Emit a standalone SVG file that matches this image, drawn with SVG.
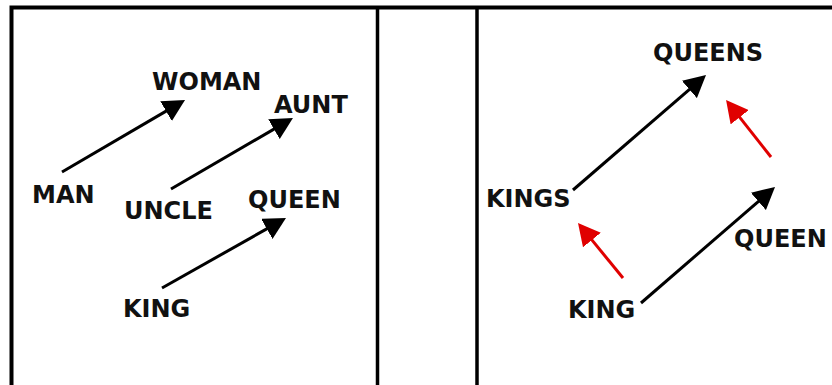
<svg xmlns="http://www.w3.org/2000/svg" width="832" height="385" viewBox="0 0 832 385">
  <style>
    .lbl { font-family: "DejaVu Sans", "Liberation Sans", sans-serif; font-weight: bold; font-size: 24px; fill: #111; }
    .frame { fill: none; stroke: #000; stroke-width: 4; }
    .blk { stroke: #000; stroke-width: 3; fill: none; }
    .red { stroke: #e00000; stroke-width: 3; fill: none; }
  </style>
  <defs>
    <marker id="ahb" markerUnits="userSpaceOnUse" viewBox="0 0 22 23" markerWidth="22" markerHeight="23" refX="4" refY="11.5" orient="auto">
      <path d="M0,0 L22,11.5 L0,23 Z" fill="#000"/>
    </marker>
    <marker id="ahr" markerUnits="userSpaceOnUse" viewBox="0 0 22 23" markerWidth="22" markerHeight="23" refX="4" refY="11.5" orient="auto">
      <path d="M0,0 L22,11.5 L0,23 Z" fill="#e00000"/>
    </marker>
  </defs>
  <rect width="832" height="385" fill="#fff"/>
  <g id="frames">
    <path class="frame" d="M11.5,385 V7.5 H832"/>
    <path class="frame" d="M377.5,7.5 V385" style="stroke-width:3.5"/>
    <path class="frame" d="M477,7.5 V385" style="stroke-width:3.5"/>
  </g>
  <g id="connectors">
    <line class="blk" x1="62" y1="172" x2="169.5" y2="109.1" marker-end="url(#ahb)"/>
    <line class="blk" x1="171" y1="189" x2="277.4" y2="127.1" marker-end="url(#ahb)"/>
    <line class="blk" x1="162" y1="288" x2="270.3" y2="226.9" marker-end="url(#ahb)"/>
    <line class="blk" x1="573" y1="190" x2="692.4" y2="86.8" marker-end="url(#ahb)"/>
    <line class="blk" x1="641" y1="303" x2="761.4" y2="198.8" marker-end="url(#ahb)"/>
    <line class="red" x1="623" y1="278" x2="589.4" y2="236.9" marker-end="url(#ahr)"/>
    <line class="red" x1="771" y1="157" x2="737.2" y2="114.1" marker-end="url(#ahr)"/>
  </g>
  <g id="woman"><text class="lbl" x="152" y="90">WOMAN</text></g>
  <g id="aunt"><text class="lbl" x="274" y="113">AUNT</text></g>
  <g id="man"><text class="lbl" x="32" y="203">MAN</text></g>
  <g id="uncle"><text class="lbl" x="124" y="219">UNCLE</text></g>
  <g id="queen-left"><text class="lbl" x="248" y="208">QUEEN</text></g>
  <g id="king-left"><text class="lbl" x="123" y="317">KING</text></g>
  <g id="queens"><text class="lbl" x="653" y="61">QUEENS</text></g>
  <g id="kings"><text class="lbl" x="486" y="207">KINGS</text></g>
  <g id="queen-right"><text class="lbl" x="734" y="247">QUEEN</text></g>
  <g id="king-right"><text class="lbl" x="568" y="318">KING</text></g>
</svg>
